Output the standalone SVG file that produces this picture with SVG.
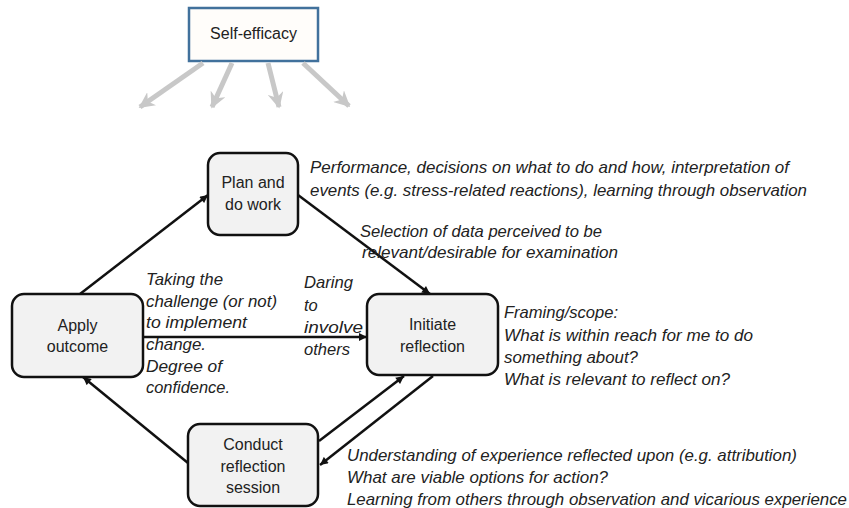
<svg xmlns="http://www.w3.org/2000/svg" width="849" height="508" viewBox="0 0 849 508">
  <style>
    .node { fill: #f2f2f2; stroke: #111; stroke-width: 2.5; }
    .nt { font-family: "Liberation Sans", Arial, sans-serif; font-size: 16px; fill: #222; text-anchor: middle; }
    .it { font-family: "Liberation Sans", Arial, sans-serif; font-size: 16.5px; font-style: italic; fill: #222; }
    .conn { stroke: #111; stroke-width: 2.5; fill: none; marker-end: url(#ah); }
    .grey { stroke: #c8c8c8; stroke-width: 5; fill: none; marker-end: url(#gah); }
  </style>
  <defs>
    <marker id="ah" viewBox="0 0 10 10" refX="10" refY="5" markerWidth="9" markerHeight="8" markerUnits="userSpaceOnUse" orient="auto">
      <path d="M0,0 L10,5 L0,10 z" fill="#111"/>
    </marker>
    <marker id="gah" viewBox="0 0 10 10" refX="9" refY="5" markerWidth="16" markerHeight="16" markerUnits="userSpaceOnUse" orient="auto">
      <path d="M0,0 L10,5 L0,10 L3,5 z" fill="#c8c8c8"/>
    </marker>
  </defs>
  <rect width="849" height="508" fill="#ffffff"/>

  <g id="self-efficacy">
    <rect x="189" y="8" width="129" height="53" fill="#fffdfa" stroke="#41719c" stroke-width="2.5"/>
    <text class="nt" x="253.5" y="39">Self-efficacy</text>
  </g>

  <g id="self-efficacy-arrows">
    <line class="grey" x1="203" y1="63" x2="140" y2="107"/>
    <line class="grey" x1="232" y1="63" x2="212" y2="107"/>
    <line class="grey" x1="268" y1="63" x2="279" y2="107"/>
    <line class="grey" x1="303" y1="63" x2="349" y2="106"/>
  </g>

  <g id="connectors">
    <line class="conn" x1="80" y1="294" x2="208" y2="195"/>
    <line class="conn" x1="298" y1="195" x2="430" y2="294"/>
    <line class="conn" x1="143" y1="337" x2="367" y2="337"/>
    <line class="conn" x1="433" y1="376" x2="320" y2="465"/>
    <line class="conn" x1="319" y1="441" x2="404" y2="376"/>
    <line class="conn" x1="188" y1="463" x2="83" y2="377"/>
  </g>

  <g id="plan">
    <rect class="node" x="208" y="153" width="90" height="82" rx="12"/>
    <text class="nt" x="253" y="188">Plan and</text>
    <text class="nt" x="253" y="210">do work</text>
  </g>

  <g id="apply">
    <rect class="node" x="12" y="294" width="131" height="83" rx="12"/>
    <text class="nt" x="77.5" y="331">Apply</text>
    <text class="nt" x="77.5" y="352">outcome</text>
  </g>

  <g id="initiate">
    <rect class="node" x="367" y="294" width="131" height="81" rx="12"/>
    <text class="nt" x="432.5" y="330">Initiate</text>
    <text class="nt" x="432.5" y="352">reflection</text>
  </g>

  <g id="conduct">
    <rect class="node" x="188" y="424" width="130" height="82" rx="12"/>
    <text class="nt" x="253" y="450">Conduct</text>
    <text class="nt" x="253" y="472">reflection</text>
    <text class="nt" x="253" y="493">session</text>
  </g>

  <g id="annotations">
    <text class="it" x="310" y="173" textLength="479" lengthAdjust="spacingAndGlyphs">Performance, decisions on what to do and how, interpretation of</text>
    <text class="it" x="310" y="196" textLength="497" lengthAdjust="spacingAndGlyphs">events (e.g. stress-related reactions), learning through observation</text>
    <text class="it" x="360" y="237" textLength="242" lengthAdjust="spacingAndGlyphs">Selection of data perceived to be</text>
    <text class="it" x="362" y="258" textLength="256" lengthAdjust="spacingAndGlyphs">relevant/desirable for examination</text>

    <text class="it" x="146" y="285" textLength="77" lengthAdjust="spacingAndGlyphs">Taking the</text>
    <text class="it" x="146" y="307" textLength="131" lengthAdjust="spacingAndGlyphs">challenge (or not)</text>
    <text class="it" x="146" y="328" textLength="101" lengthAdjust="spacingAndGlyphs">to implement</text>
    <text class="it" x="146" y="350" textLength="60" lengthAdjust="spacingAndGlyphs">change.</text>
    <text class="it" x="146" y="372" textLength="76" lengthAdjust="spacingAndGlyphs">Degree of</text>
    <text class="it" x="146" y="393" textLength="84" lengthAdjust="spacingAndGlyphs">confidence.</text>

    <text class="it" x="304" y="288" textLength="49" lengthAdjust="spacingAndGlyphs">Daring</text>
    <text class="it" x="304" y="311">to</text>
    <text class="it" x="304" y="333" textLength="59" lengthAdjust="spacingAndGlyphs">involve</text>
    <text class="it" x="304" y="355" textLength="46" lengthAdjust="spacingAndGlyphs">others</text>

    <text class="it" x="504" y="318" textLength="114" lengthAdjust="spacingAndGlyphs">Framing/scope:</text>
    <text class="it" x="504" y="341" textLength="249" lengthAdjust="spacingAndGlyphs">What is within reach for me to do</text>
    <text class="it" x="504" y="363" textLength="134" lengthAdjust="spacingAndGlyphs">something about?</text>
    <text class="it" x="504" y="385" textLength="226" lengthAdjust="spacingAndGlyphs">What is relevant to reflect on?</text>

    <text class="it" x="347" y="461" textLength="450" lengthAdjust="spacingAndGlyphs">Understanding of experience reflected upon (e.g. attribution)</text>
    <text class="it" x="347" y="483" textLength="261" lengthAdjust="spacingAndGlyphs">What are viable options for action?</text>
    <text class="it" x="347" y="505" textLength="500" lengthAdjust="spacingAndGlyphs">Learning from others through observation and vicarious experience</text>
  </g>
</svg>
